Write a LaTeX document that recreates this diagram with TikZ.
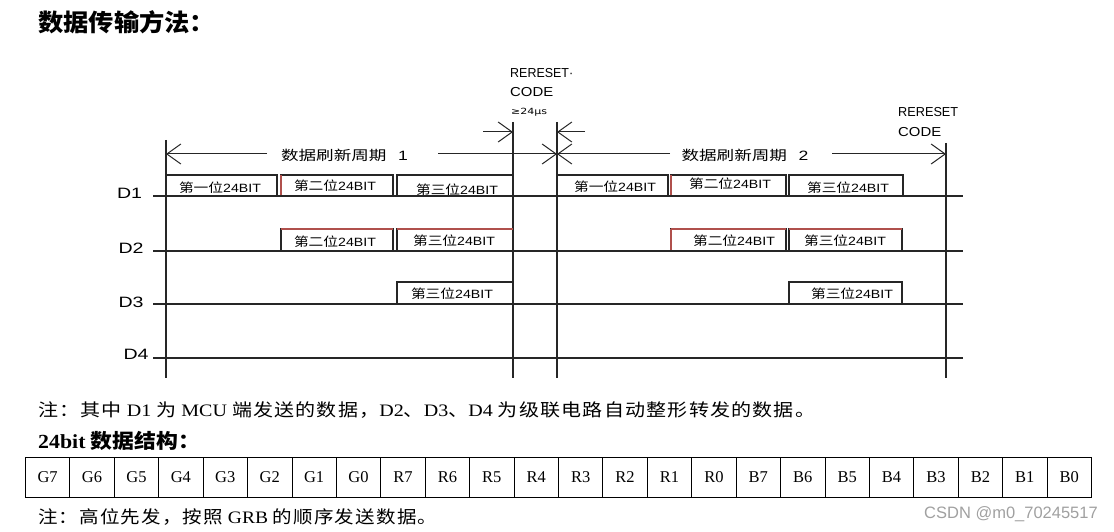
\documentclass[tikz,border=0pt]{standalone}
\usepackage{fontspec}
\usepackage{graphicx}
\setmainfont{Liberation Serif}
\newfontfamily\zhf{Noto Sans CJK SC}
\newfontfamily\zhs{Noto Sans CJK SC}[LetterSpace=6]
\newfontfamily\lsans{Liberation Sans}
\newfontfamily\dvs{DejaVu Sans}
\usetikzlibrary{arrows.meta}
\definecolor{ln}{HTML}{262626}
\definecolor{rd}{HTML}{B0504C}
\definecolor{wm}{HTML}{A0A0A0}
\newcommand\zh[1]{{\zhs #1}}
\newcommand\fitw[2]{\resizebox{#1}{\height}{#2}}
\newcommand\bxt[1]{\fitw{82pt}{\zhf\fontsize{12.5}{12.5}\selectfont #1\lsans\fontsize{12}{12}\selectfont 24BIT}}
\newcommand\dlab[1]{\fitw{25pt}{\lsans\fontsize{15}{15}\selectfont #1}}
\newcommand\per[1]{\fitw{127pt}{\zhf\fontsize{13.5}{13.5}\selectfont 数据刷新周期\hspace{9pt}\lsans #1}}
\begin{document}
\begin{tikzpicture}[x=1pt,y=-1pt,
  sig/.style={line width=1.8pt, draw=ln},
  vline/.style={line width=1.6pt, draw=ln},
  boxl/.style={line width=1.1pt, draw=ln},
  redl/.style={line width=1.1pt, draw=rd},
  dim/.style={line width=1pt, draw=ln},
  barb/.style={-{Straight Barb[length=14pt,width=20pt,line width=1pt]}},
  lbl/.style={inner sep=0pt},
  cell/.style={draw, line width=0.8pt, minimum width=44.42pt, minimum height=40pt, inner sep=0pt, anchor=north west}]
\useasboundingbox (0,0) rectangle (1114,532);

% title
\node[lbl, anchor=west] (title) at (38,22) {\fitw{177pt}{\zhf\bfseries\fontsize{24}{24}\selectfont 数据传输方法：}};

% vertical lines
\coordinate (v1t) at (166,140); \coordinate (v1b) at (166,378);
\coordinate (v2t) at (513,122); \coordinate (v2b) at (513,378);
\coordinate (v3t) at (557,122); \coordinate (v3b) at (557,378);
\coordinate (v4t) at (946,143); \coordinate (v4b) at (946,378);
\draw[vline] (v1t) -- (v1b);
\draw[vline] (v2t) -- (v2b);
\draw[vline] (v3t) -- (v3b);
\draw[vline] (v4t) -- (v4b);

% signal lines
\foreach \n/\y in {1/196,2/251,3/304,4/358}{
  \coordinate (s\n a) at (153,\y); \coordinate (s\n b) at (963,\y);
  \draw[sig] (s\n a) -- (s\n b);
}
\node[lbl] (d1) at (129.5,193) {\dlab{D1}};
\node[lbl] (d2) at (131,248) {\dlab{D2}};
\node[lbl] (d3) at (131,302) {\dlab{D3}};
\node[lbl] (d4) at (136,354) {\dlab{D4}};

% boxes
\foreach \a/\b/\c/\d in {166/277/175/196, 281/393/175/196, 397/513/175/196,
  557/668/175/196, 671/786/175/196, 789/903/175/196,
  281/393/229/251, 397/513/229/251, 671/786/229/251, 789/902/229/251,
  397/513/282/304, 789/902/282/304}{
  \draw[boxl] (\a,\d) |- (\b,\c) -- (\b,\d);
}
\draw[redl] (281,195) -- (281,175);
\draw[redl] (671,195) -- (671,175);
\draw[redl] (281,229) -- (393,229);
\draw[redl] (397,229) -- (513,229);
\draw[redl] (671,229) -- (786,229);
\draw[redl] (789,229) -- (902,229);
\draw[redl] (671,250) -- (671,229);

% box texts
\node[lbl] (t11) at (220,188) {\bxt{第一位}};
\node[lbl] (t12) at (335,185.5) {\bxt{第二位}};
\node[lbl] (t13) at (457,190) {\bxt{第三位}};
\node[lbl] (t14) at (615,187) {\bxt{第一位}};
\node[lbl] (t15) at (730,184) {\bxt{第二位}};
\node[lbl] (t16) at (848,188) {\bxt{第三位}};
\node[lbl] (t21) at (335,242) {\bxt{第二位}};
\node[lbl] (t22) at (454,241) {\bxt{第三位}};
\node[lbl] (t23) at (734,241) {\bxt{第二位}};
\node[lbl] (t24) at (845,241) {\bxt{第三位}};
\node[lbl] (t31) at (452,294) {\bxt{第三位}};
\node[lbl] (t32) at (852,294) {\bxt{第三位}};

% period dimension lines
\coordinate (p1a) at (267,154); \coordinate (p1b) at (438,154);
\coordinate (p2a) at (670,154); \coordinate (p2b) at (832,154);
\coordinate (pl) at (166,154); \coordinate (pm) at (557,154); \coordinate (pr) at (946,154);
\draw[dim,barb] (p1a) -- (pl);
\draw[dim,barb] (p1b) -- (pm);
\draw[dim,barb] (p2a) -- (pm);
\draw[dim,barb] (p2b) -- (pr);
\node[lbl] (per1) at (344.5,155) {\per{1}};
\node[lbl] (per2) at (745,155) {\per{2}};

% reset arrows
\coordinate (r1s) at (483,132); \coordinate (r1e) at (513,132);
\coordinate (r2s) at (585,132); \coordinate (r2e) at (557,132);
\draw[dim,barb] (r1s) -- (r1e);
\draw[dim,barb] (r2s) -- (r2e);

% reset labels
\node[lbl, anchor=west] (rl1) at (510,73) {\fitw{63pt}{\lsans\fontsize{13}{13}\selectfont RERESET·}};
\node[lbl, anchor=west] (rl2) at (510,92) {\fitw{43pt}{\lsans\fontsize{13}{13}\selectfont CODE}};
\node[lbl, anchor=west] (rl3) at (511,112) {\fitw{36pt}{\dvs\fontsize{8.5}{8.5}\selectfont ≥24μs}};
\node[lbl, anchor=west] (rr1) at (898,112) {\fitw{60pt}{\lsans\fontsize{13}{13}\selectfont RERESET}};
\node[lbl, anchor=west] (rr2) at (898,132) {\fitw{43pt}{\lsans\fontsize{13}{13}\selectfont CODE}};

% notes
\node[lbl, anchor=west] (n1) at (38,410) {\fitw{777pt}{\fontsize{17.5}{17.5}\selectfont\zh{注：其中} D1 \zh{为} MCU \zh{端发送的数据，}D2\zh{、}D3\zh{、}D4 \zh{为级联电路自动整形转发的数据。}}};
\node[lbl, anchor=west] (h2) at (38,441) {\fitw{162pt}{\bfseries\fontsize{20}{20}\selectfont 24bit {\zhf 数据结构：}}};

% table
\foreach \t [count=\i from 0] in {G7,G6,G5,G4,G3,G2,G1,G0,R7,R6,R5,R4,R3,R2,R1,R0,B7,B6,B5,B4,B3,B2,B1,B0}{
  \node[cell] (c\i) at ({25+\i*44.42},457) {\fontsize{16.5}{16.5}\selectfont\t};
}

\node[lbl, anchor=west] (n2) at (38,517) {\fitw{399pt}{\fontsize{17.5}{17.5}\selectfont\zh{注：高位先发，按照} GRB \zh{的顺序发送数据。}}};

\node[lbl, anchor=east] (wm) at (1098,514) {\color{wm}\lsans\fontsize{16.5}{16.5}\selectfont CSDN @m0\_70245517};
\end{tikzpicture}
\end{document}
